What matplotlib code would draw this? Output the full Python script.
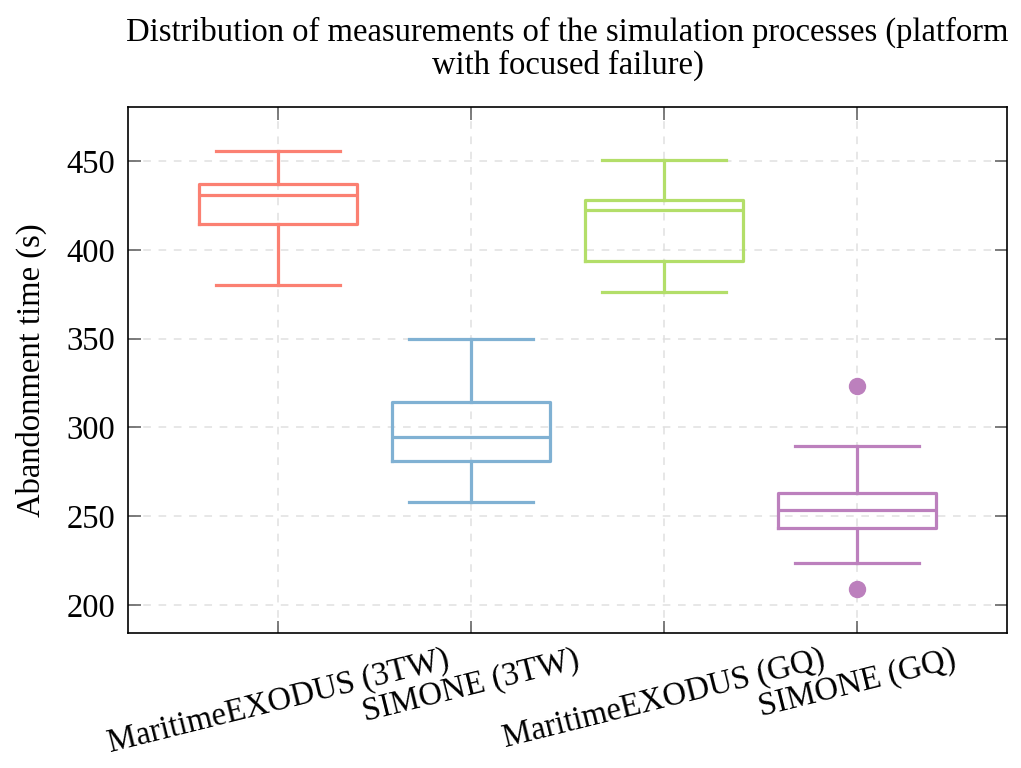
import matplotlib.pyplot as plt

plt.rcParams['font.family'] = ['Liberation Serif', 'DejaVu Serif']

# box statistics (seconds)
labels = ['MaritimeEXODUS (3TW)', 'SIMONE (3TW)', 'MaritimeEXODUS (GQ)', 'SIMONE (GQ)']
whislo = [380.2, 258.0, 376.2, 223.6]
q1 = [414.5, 281.0, 393.7, 243.4]
med = [430.9, 294.6, 422.4, 253.4]
q3 = [437.0, 314.3, 428.0, 263.0]
whishi = [455.6, 349.8, 450.5, 289.5]
fliers = [[], [], [], [323.3, 209.0]]
colors = ['#fb8072', '#80b1d3', '#b3de69', '#bc80bd']

stats = []
for i in range(len(labels)):
    stats.append({'label': labels[i], 'whislo': whislo[i], 'q1': q1[i], 'med': med[i],
                  'q3': q3[i], 'whishi': whishi[i], 'fliers': fliers[i]})

fig = plt.figure(figsize=(10.21, 7.68), dpi=100)
ax = fig.add_axes([0.1254, 0.1758, 0.8609, 0.6849])

pos = [1, 2, 3, 4]
bp = ax.bxp(stats, positions=pos, widths=0.815, capwidths=0.64)
for i, c in enumerate(colors):
    bp['boxes'][i].set(color=c, linewidth=2.3)
    bp['medians'][i].set(color=c, linewidth=2.3)
    for k in (2 * i, 2 * i + 1):
        bp['whiskers'][k].set(color=c, linewidth=2.3)
        bp['caps'][k].set(color=c, linewidth=2.3)
    bp['fliers'][i].set(marker='o', markerfacecolor=c, markeredgecolor=c, markersize=11.5)

ax.set_xlim(0.223, 4.777)
ax.set_ylim(184.2, 480.4)
ax.set_yticks([200, 250, 300, 350, 400, 450])
ax.set_xticks(pos)
ax.set_xticklabels(labels, rotation=14)

ax.grid(True, linestyle=(0, (5, 5)), color='#e0e0e0', linewidth=1.1)
ax.set_axisbelow(True)
ax.tick_params(direction='in', top=True, right=True, length=9, width=1.2,
               color='#666666', labelsize=23.5)
ax.tick_params(axis='y', pad=9)
ax.tick_params(axis='x', pad=8)
for s in ax.spines.values():
    s.set_linewidth(1.2)

ax.set_ylabel('Abandonment time (s)', fontsize=23.5, labelpad=14)
ax.set_title('Distribution of measurements of the simulation processes (platform\nwith focused failure)',
             fontsize=23.5, pad=24, linespacing=1.05)

fig.savefig('out.png', dpi=100)
